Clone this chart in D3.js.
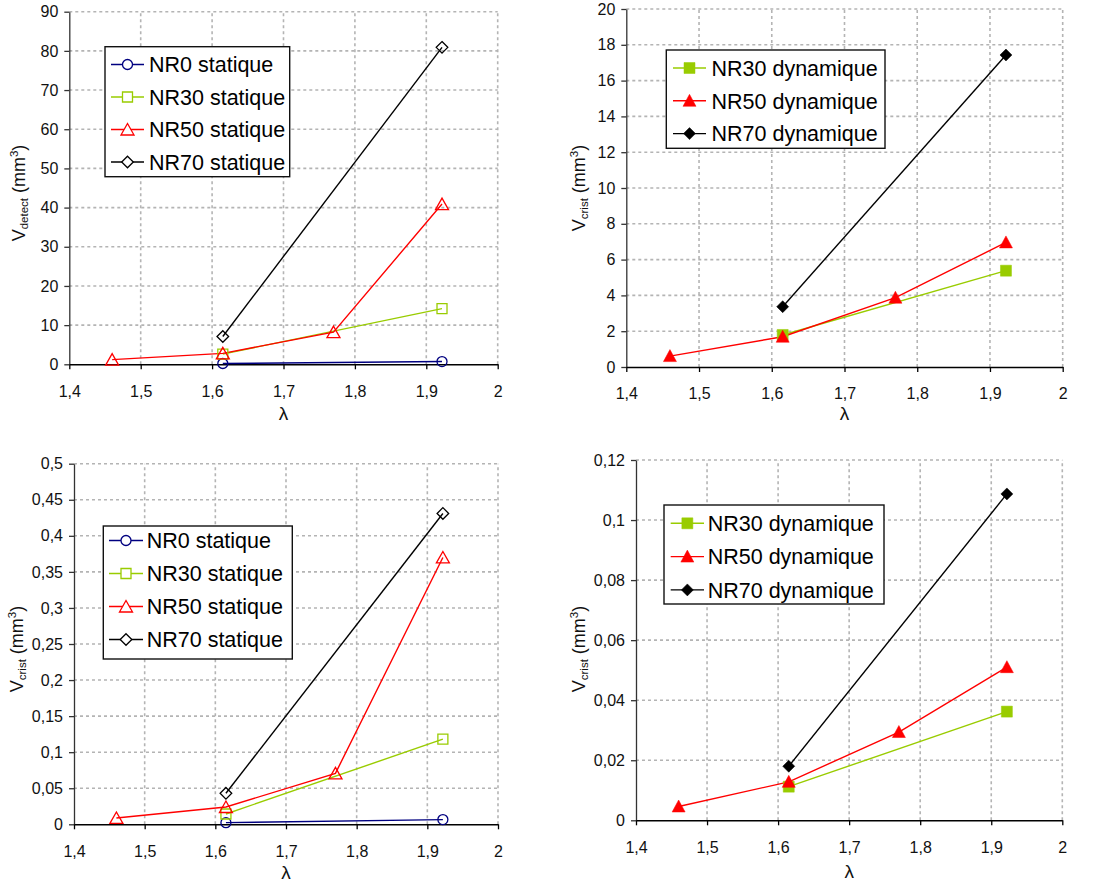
<!DOCTYPE html>
<html>
<head>
<meta charset="utf-8">
<script src="https://cdn.jsdelivr.net/npm/d3@7/dist/d3.min.js"></script>
<style>
  body { margin: 0; background: #fff; }
  svg { display: block; font-family: "Liberation Sans", Arial, sans-serif; }
</style>
</head>
<body>
<svg id="chart" width="1106" height="883"></svg>
<script>
// ---------------- DATA ----------------
const xTicks = [1.4, 1.5, 1.6, 1.7, 1.8, 1.9, 2];
const xTwo = [1.615, 1.922];
const xFour = [1.46, 1.615, 1.77, 1.922];

// Panel A : V_detect static (mm3)
const detectTicks = [0, 10, 20, 30, 40, 50, 60, 70, 80, 90];
const detectNR0 = [0.2, 0.7];
const detectNR30 = [2.6, 14.2];
const detectNR50 = [1.2, 2.8, 8.2, 40.9];
const detectNR70 = [7.1, 80.9];

// Panel B : V_crist dynamic (mm3)
const dynTicks = [0, 2, 4, 6, 8, 10, 12, 14, 16, 18, 20];
const dynNR30 = [1.79, 5.38];
const dynNR50 = [0.61, 1.69, 3.87, 6.96];
const dynNR70 = [3.37, 17.43];

// Panel C : V_crist static (mm3)
const cristTicks = [0, 0.05, 0.1, 0.15, 0.2, 0.25, 0.3, 0.35, 0.4, 0.45, 0.5];
const cristNR0 = [0.0023, 0.0065];
const cristNR30 = [0.0143, 0.118];
const cristNR50 = [0.0088, 0.024, 0.0707, 0.370];
const cristNR70 = [0.043, 0.431];

// Panel D : V_crist dynamic small (mm3)
const dyn2Ticks = [0, 0.02, 0.04, 0.06, 0.08, 0.1, 0.12];
const dyn2NR30 = [0.0112, 0.0362];
const dyn2NR50 = [0.0046, 0.0128, 0.0294, 0.051];
const dyn2NR70 = [0.018, 0.1087];

const labelsStatic = ["NR0 statique", "NR30 statique", "NR50 statique", "NR70 statique"];
const labelsDyn = ["NR30 dynamique", "NR50 dynamique", "NR70 dynamique"];

// ---------------- STYLE ----------------
const COL = { nr0: "#000080", nr30: "#99cc00", nr50: "#ff0000", nr70: "#000000" };
const fmt = d => String(+d.toFixed(4)).replace(".", ",");

const svg = d3.select("#chart");

function markerPath(type) {
  if (type === "circle") return d3.symbol().type(d3.symbolCircle).size(Math.PI * 5 * 5)();
  if (type === "square") return "M-5,-5H5V5H-5Z";
  if (type === "squareF") return "M-5.5,-5.5H5.5V5.5H-5.5Z";
  if (type === "triangle") return "M-6.5,5.5L6.5,5.5L0,-6Z";
  if (type === "triangleF") return "M-6.5,5.5L6.5,5.5L0,-6.5Z";
  if (type === "diamond") return "M0,-5.8L5.8,0L0,5.8L-5.8,0Z";
  if (type === "diamondF") return "M0,-6L6,0L0,6L-6,0Z";
}

function drawPanel(p) {
  const g = svg.append("g");
  const x = d3.scaleLinear().domain([1.4, 2]).range([p.x0, p.x1]);
  const y = d3.scaleLinear().domain([0, p.yTicks[p.yTicks.length - 1]]).range([p.y0, p.y1]);

  // grid
  g.selectAll(".vg").data(xTicks.slice(1)).join("line")
    .attr("x1", d => x(d)).attr("x2", d => x(d))
    .attr("y1", y.range()[0]).attr("y2", y.range()[1])
    .attr("stroke", "#b4b4b4").attr("stroke-width", 1.6).attr("stroke-dasharray", "3,3");
  g.selectAll(".hg").data(p.yTicks.slice(1)).join("line")
    .attr("x1", x.range()[0]).attr("x2", x.range()[1])
    .attr("y1", d => y(d)).attr("y2", d => y(d))
    .attr("stroke", "#b4b4b4").attr("stroke-width", 1.6).attr("stroke-dasharray", "3,3");

  // axes
  const ya = g.append("g").attr("transform", `translate(${p.x0},0)`)
    .call(d3.axisLeft(y).tickValues(p.yTicks).tickFormat(fmt).tickSize(5).tickPadding(6).tickSizeOuter(0));
  ya.select(".domain").attr("stroke", "#333").attr("stroke-width", 1.3);
  ya.selectAll(".tick line").attr("stroke", "#333").attr("stroke-width", 1.3);
  ya.selectAll("text").attr("font-size", 16).attr("fill", "#111").attr("font-family", "Liberation Sans, Arial, sans-serif");

  const xa = g.append("g").attr("transform", `translate(0,${p.y0})`)
    .call(d3.axisBottom(x).tickValues(xTicks).tickFormat(fmt).tickSize(5).tickPadding(16).tickSizeOuter(0));
  xa.select(".domain").attr("stroke", "#000").attr("stroke-width", 1.6);
  xa.selectAll(".tick line").attr("stroke", "#000").attr("stroke-width", 1.3);
  xa.selectAll("text").attr("font-size", 16).attr("fill", "#111").attr("font-family", "Liberation Sans, Arial, sans-serif");

  // axis titles
  g.append("text").attr("x", (p.x0 + p.x1) / 2).attr("y", p.lambdaY)
    .attr("text-anchor", "middle").attr("font-size", 19).attr("fill", "#111").text("λ");

  const yt = g.append("text")
    .attr("transform", `translate(${p.yLabX},${p.yLabY}) rotate(-90)`)
    .attr("text-anchor", "middle").attr("fill", "#111").attr("font-size", 18);
  yt.append("tspan").text("V");
  yt.append("tspan").attr("font-size", 11.5).attr("dy", 3).text(p.sub);
  yt.append("tspan").attr("dy", -3).text(" (mm");
  yt.append("tspan").attr("font-size", 11.5).attr("dy", -7).text("3");
  yt.append("tspan").attr("dy", 7).text(")");

  // series
  const line = d3.line().x(d => x(d[0])).y(d => y(d[1]));
  p.series.forEach(s => {
    const pts = s.xs.map((xv, i) => [xv, s.ys[i]]);
    g.append("path").datum(pts).attr("d", line)
      .attr("fill", "none").attr("stroke", s.color).attr("stroke-width", 1.4);
  });
  p.series.forEach(s => {
    const pts = s.xs.map((xv, i) => [xv, s.ys[i]]);
    g.selectAll(null).data(pts).join("path")
      .attr("d", markerPath(s.marker))
      .attr("transform", d => `translate(${x(d[0])},${y(d[1])})`)
      .attr("fill", s.filled ? s.color : "none")
      .attr("stroke", s.color).attr("stroke-width", s.filled ? 0.5 : 1.3);
  });

  // legend
  const L = p.legend;
  const lg = g.append("g");
  lg.append("rect").attr("x", L.x).attr("y", L.y).attr("width", L.w).attr("height", L.h)
    .attr("fill", "#fff").attr("stroke", "#111").attr("stroke-width", 1.4);
  p.series.forEach((s, i) => {
    const cy = L.row0 + i * L.step;
    lg.append("line").attr("x1", L.lx0).attr("x2", L.lx1).attr("y1", cy).attr("y2", cy)
      .attr("stroke", s.color).attr("stroke-width", 1.4);
    lg.append("path").attr("d", markerPath(s.marker))
      .attr("transform", `translate(${(L.lx0 + L.lx1) / 2},${cy})`)
      .attr("fill", s.filled ? s.color : "#fff")
      .attr("stroke", s.color).attr("stroke-width", s.filled ? 0.5 : 1.3);
    lg.append("text").attr("x", L.tx).attr("y", cy).attr("dy", "0.36em")
      .attr("font-size", L.fs).attr("fill", "#000").text(s.label);
  });
}

const staticSeries = (a, b, c, d) => [
  { label: labelsStatic[0], xs: xTwo, ys: a, color: COL.nr0, marker: "circle" },
  { label: labelsStatic[1], xs: xTwo, ys: b, color: COL.nr30, marker: "square" },
  { label: labelsStatic[2], xs: xFour, ys: c, color: COL.nr50, marker: "triangle" },
  { label: labelsStatic[3], xs: xTwo, ys: d, color: COL.nr70, marker: "diamond" }
];
const dynSeries = (b, c, d) => [
  { label: labelsDyn[0], xs: xTwo, ys: b, color: COL.nr30, marker: "squareF", filled: true },
  { label: labelsDyn[1], xs: xFour, ys: c, color: COL.nr50, marker: "triangleF", filled: true },
  { label: labelsDyn[2], xs: xTwo, ys: d, color: COL.nr70, marker: "diamondF", filled: true }
];

drawPanel({
  x0: 69.3, x1: 497.7, y0: 364.3, y1: 11.7, yTicks: detectTicks, sub: "detect",
  yLabX: 25, yLabY: 193, lambdaY: 420,
  series: staticSeries(detectNR0, detectNR30, detectNR50, detectNR70),
  legend: { x: 105, y: 46.7, w: 184.7, h: 130, row0: 64.5, step: 32.5, lx0: 111, lx1: 144, tx: 149, fs: 21.5 }
});
drawPanel({
  x0: 626.3, x1: 1062.7, y0: 367, y1: 9, yTicks: dynTicks, sub: "crist",
  yLabX: 585, yLabY: 188, lambdaY: 420,
  series: dynSeries(dynNR30, dynNR50, dynNR70),
  legend: { x: 666.3, y: 50, w: 218.7, h: 98.3, row0: 68, step: 32.8, lx0: 673, lx1: 706, tx: 711.5, fs: 21.5 }
});
drawPanel({
  x0: 74, x1: 498, y0: 824.3, y1: 463.7, yTicks: cristTicks, sub: "crist",
  yLabX: 23, yLabY: 649, lambdaY: 879,
  series: staticSeries(cristNR0, cristNR30, cristNR50, cristNR70),
  legend: { x: 103.3, y: 526, w: 189, h: 133, row0: 540.5, step: 33, lx0: 109, lx1: 143, tx: 146.7, fs: 21.5 }
});
drawPanel({
  x0: 636, x1: 1062.3, y0: 820.3, y1: 460, yTicks: dyn2Ticks, sub: "crist",
  yLabX: 585, yLabY: 649, lambdaY: 878,
  series: dynSeries(dyn2NR30, dyn2NR50, dyn2NR70),
  legend: { x: 664, y: 505, w: 220, h: 99, row0: 523.3, step: 33.3, lx0: 670.7, lx1: 704, tx: 707.7, fs: 21.5 }
});
</script>
</body>
</html>
